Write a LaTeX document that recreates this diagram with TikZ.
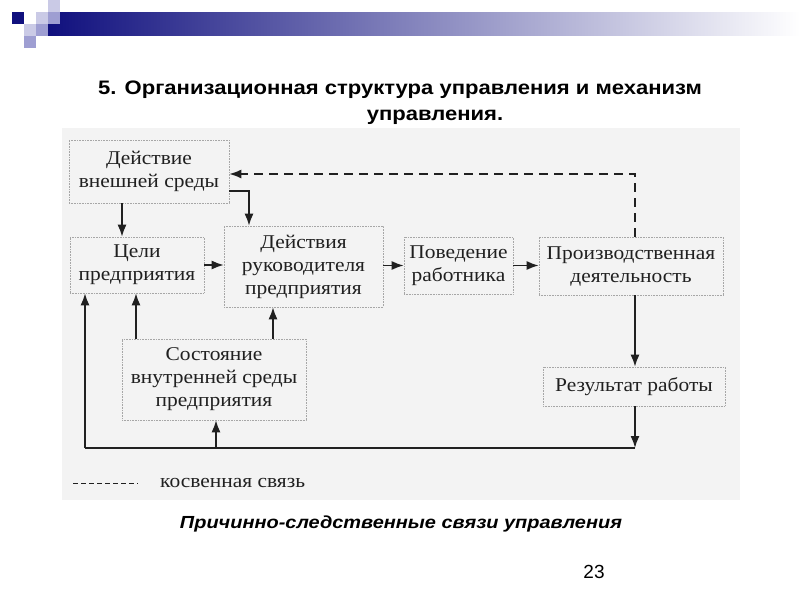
\documentclass[tikz,border=0pt]{standalone}
\usepackage{fontspec}
\setmainfont{Liberation Sans}
\newfontfamily\scanfont[FakeStretch=1.1]{Liberation Serif}
\newfontfamily\titlefont[FakeStretch=1.13]{Liberation Sans}
\newfontfamily\capfont[FakeStretch=1.14]{Liberation Sans}
\usetikzlibrary{arrows.meta}
\definecolor{navy}{HTML}{10107E}
\definecolor{lavA}{HTML}{CACAE6}
\definecolor{lavB}{HTML}{9E9ED2}
\definecolor{scanbg}{HTML}{F3F3F3}
\definecolor{ink}{HTML}{202020}
\tikzset{
  box/.style={draw=gray!70, line width=0.6pt, densely dotted, fill=scanbg, inner sep=0pt, align=center,
     font=\scanfont\fontsize{19.5}{23}\selectfont, text=ink},
  arr/.style={draw=ink, line width=1.6pt, -{Latex[length=12pt,width=9pt]}},
  plain/.style={draw=ink, line width=1.2pt},
  indirect/.style={draw=ink, line width=1.5pt, dash pattern=on 9pt off 6pt, -{Latex[length=12pt,width=9pt]}},
  legdash/.style={draw=ink, line width=0.9pt, dash pattern=on 5pt off 3pt},
}
\begin{document}
\begin{tikzpicture}[x=1pt,y=-1pt]
\useasboundingbox (0,0) rectangle (800,600);
% header decoration
\shade[left color=navy, right color=white, middle color=navy!50] (48,12) rectangle (800,35);
\fill[navy] (12,12) rectangle (24,24);
\fill[lavA] (48,0) rectangle (60,12);
\fill[lavA] (36,12) rectangle (48,24);
\fill[lavB] (48,12) rectangle (60,24);
\fill[lavA] (24,24) rectangle (36,36);
\fill[lavB] (36,24) rectangle (48,36);
\fill[lavB] (24,36) rectangle (36,48);
% title
\node[font=\titlefont\bfseries\fontsize{19.5}{23}\selectfont] (t1) at (400,90) {5. Организационная структура управления и механизм};
\node[font=\titlefont\bfseries\fontsize{19.5}{23}\selectfont] (t2) at (435,117) {управления.};
% scan background
\fill[scanbg] (62,128) rectangle (740,500);
% boxes
\node[box, minimum width=160pt, minimum height=63pt] (ext) at (149,171.5) {Действие\\внешней среды};
\node[box, minimum width=134pt, minimum height=56pt] (goals) at (137,265) {Цели\\предприятия};
\node[box, minimum width=159pt, minimum height=81pt] (mgr) at (303.5,266.5) {Действия\\руководителя\\предприятия};
\node[box, minimum width=109pt, minimum height=57pt] (beh) at (458.5,265.5) {Поведение\\работника};
\node[box, minimum width=184pt, minimum height=58pt] (prod) at (631,266) {Производственная\\деятельность};
\node[box, minimum width=182pt, minimum height=39pt] (res) at (634,386.5) {Результат работы};
\node[box, minimum width=184pt, minimum height=81pt] (state) at (214,379.5) {Состояние\\внутренней среды\\предприятия};
% helper coordinates
\coordinate (xA) at (122,0);
\coordinate (xB) at (249,0);
\coordinate (yB) at (0,191);
\coordinate (xP) at (635,0);
\coordinate (yD) at (0,174);
\coordinate (yL) at (0,448);
\coordinate (xL) at (85,0);
\coordinate (xS) at (216,0);
\coordinate (xG) at (136,0);
\coordinate (xM) at (273,0);
% connectors
\draw[arr] (ext.south -| xA) -- (goals.north -| xA);
\draw[arr] (yB -| ext.east) -| (xB |- mgr.north);
\draw[arr] (goals.east) -- (goals.east -| mgr.west);
\draw[arr] (beh.west -| mgr.east) -- (beh.west);
\draw[arr] (beh.east) -- (beh.east -| prod.west);
\draw[indirect] (prod.north -| xP) -- (xP |- yD) -- (yD -| ext.east);
\draw[arr] (prod.south -| xP) -- (res.north -| xP);
\draw[arr] (res.south -| xP) -- (xP |- yL);
\draw[plain] (xP |- yL) -- (xL |- yL);
\draw[arr] (xL |- yL) -- (goals.south -| xL);
\draw[arr] (xS |- yL) -- (state.south -| xS);
\draw[arr] (state.north -| xG) -- (goals.south -| xG);
\draw[arr] (state.north -| xM) -- (mgr.south -| xM);
% legend
\coordinate (lg1) at (73,483);
\coordinate (lg2) at (138,483);
\draw[legdash] (lg1) -- (lg2);
\node[anchor=west, font=\scanfont\fontsize{19.5}{23}\selectfont, text=ink, inner sep=0pt] (legtxt) at (160,483) {косвенная связь};
% caption & page number
\node[font=\capfont\bfseries\itshape\fontsize{17.5}{21}\selectfont] (cap) at (401,524) {Причинно-следственные связи управления};
\node[font=\fontsize{19}{23}\selectfont] (num) at (594,572) {23};
\end{tikzpicture}
\end{document}
